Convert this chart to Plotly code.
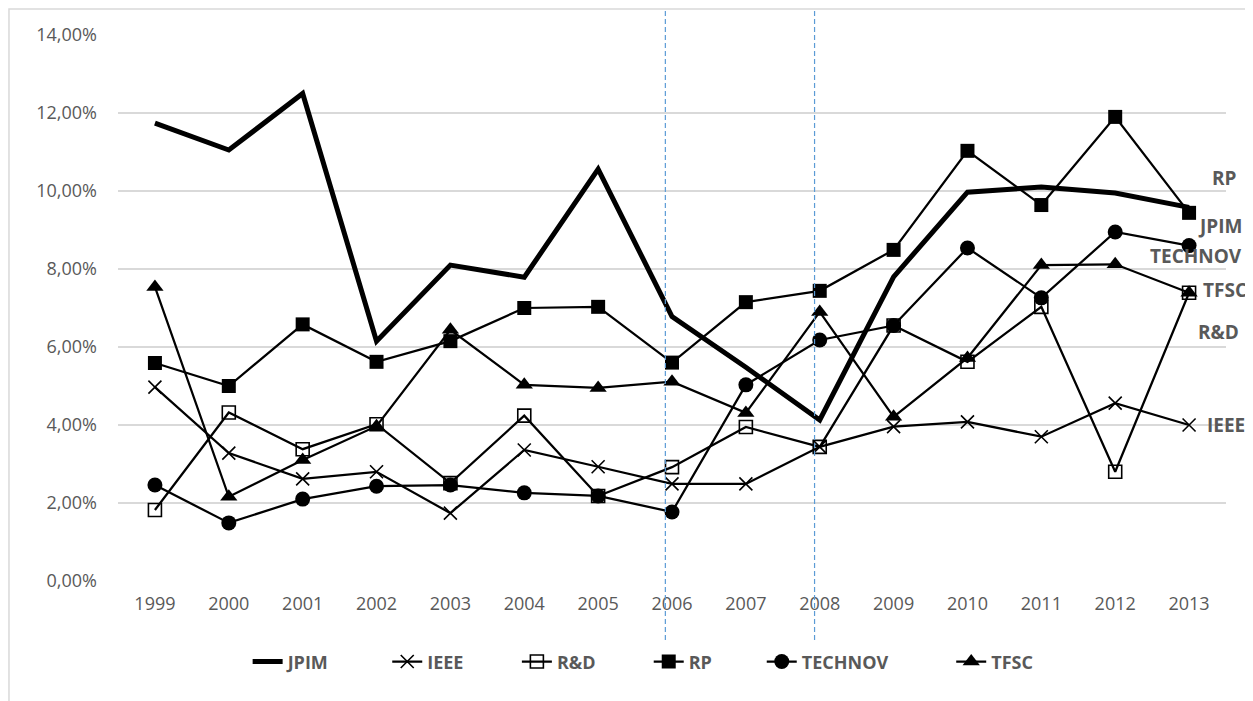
import plotly.graph_objects as go

years = [1999, 2000, 2001, 2002, 2003, 2004, 2005, 2006, 2007, 2008, 2009, 2010, 2011, 2012, 2013]
jpim = [11.74, 11.05, 12.50, 6.15, 8.10, 7.79, 10.56, 6.78, 5.48, 4.13, 7.80, 9.97, 10.10, 9.95, 9.58]
ieee = [4.97, 3.28, 2.62, 2.80, 1.74, 3.36, 2.93, 2.49, 2.49, 3.44, 3.96, 4.08, 3.70, 4.56, 4.00]
rnd = [1.82, 4.32, 3.38, 4.02, 2.51, 4.24, 2.18, 2.92, 3.95, 3.44, 6.55, 5.62, 7.03, 2.80, 7.39]
rp = [5.59, 5.00, 6.58, 5.62, 6.15, 7.00, 7.03, 5.60, 7.15, 7.44, 8.49, 11.03, 9.64, 11.90, 9.44]
technov = [2.46, 1.49, 2.10, 2.43, 2.46, 2.26, 2.18, 1.77, 5.03, 6.18, 6.55, 8.54, 7.26, 8.95, 8.60]
tfsc = [7.54, 2.16, 3.10, 3.97, 6.44, 5.03, 4.95, 5.11, 4.31, 6.90, 4.21, 5.72, 8.10, 8.12, 7.39]

y_ticks = [0, 2, 4, 6, 8, 10, 12, 14]
marked_years = [2005.91, 2007.93]

# right-hand labels: (text, x start in year units, y in percent)
end_labels = [("RP", 2013.29, 10.33), ("JPIM", 2013.09, 9.10), ("TECHNOV", 2012.45, 8.33),
              ("TFSC", 2013.16, 7.46), ("R&D", 2013.09, 6.38), ("IEEE", 2013.22, 4.00)]

GRAY = "#595959"
FONT = "Open Sans, Lato, sans-serif"

def pct(v):
    return [x / 100 for x in v]

# each series gets its own legend box, placed along the bottom row
legend_x = [0.117, 0.243, 0.360, 0.479, 0.581, 0.752]

fig = go.Figure()
fig.add_trace(go.Scatter(x=years, y=pct(jpim), name="JPIM", mode="lines",
                         line=dict(color="black", width=5), legend="legend"))
fig.add_trace(go.Scatter(x=years, y=pct(ieee), name="IEEE", mode="lines+markers",
                         line=dict(color="black", width=2.25), legend="legend2",
                         marker=dict(symbol="x-thin", size=13, line=dict(color="black", width=1.6))))
fig.add_trace(go.Scatter(x=years, y=pct(rnd), name="R&D", mode="lines+markers",
                         line=dict(color="black", width=2.25), legend="legend3",
                         marker=dict(symbol="square-open", size=13, color="black", line=dict(color="black", width=1.6))))
fig.add_trace(go.Scatter(x=years, y=pct(rp), name="RP", mode="lines+markers",
                         line=dict(color="black", width=2.25), legend="legend4",
                         marker=dict(symbol="square", size=14, color="black")))
fig.add_trace(go.Scatter(x=years, y=pct(technov), name="TECHNOV", mode="lines+markers",
                         line=dict(color="black", width=2.25), legend="legend5",
                         marker=dict(symbol="circle", size=15, color="black")))
fig.add_trace(go.Scatter(x=years, y=pct(tfsc), name="TFSC", mode="lines+markers",
                         line=dict(color="black", width=2.25), legend="legend6",
                         marker=dict(symbol="triangle-up", size=15, color="black")))

for xv in marked_years:
    fig.add_shape(type="line", xref="x", yref="paper", x0=xv, x1=xv, y0=-0.108, y1=1.05,
                  line=dict(color="#5b9bd5", width=1.2, dash="5px,3px"))

# outer chart border
fig.add_shape(type="rect", xref="paper", yref="paper", x0=-0.0984, x1=1.04, y0=-0.25, y1=1.0476,
              line=dict(color="#d9d9d9", width=1.5))

for text, xs, yv in end_labels:
    fig.add_annotation(x=xs, y=yv / 100, xref="x", yref="y", text=text, showarrow=False,
                       xanchor="left", yanchor="middle",
                       font=dict(family=FONT, size=19, color=GRAY, weight="bold"))

legend_style = dict(orientation="h", xanchor="left", y=-0.148, yanchor="middle",
                    font=dict(family=FONT, size=18, color=GRAY, weight="bold"),
                    bgcolor="rgba(0,0,0,0)")
legends = {}
for i, lx in enumerate(legend_x):
    key = "legend" if i == 0 else f"legend{i + 1}"
    legends[key] = dict(legend_style, x=lx)

fig.update_layout(
    width=1245, height=693,
    margin=dict(l=110, r=27, t=27, b=120),
    paper_bgcolor="white", plot_bgcolor="white",
    separators=",.",
    showlegend=True,
    font=dict(family=FONT, color=GRAY),
    **legends,
)
fig.update_xaxes(range=[1998.5, 2013.5], tickmode="array", tickvals=years,
                 ticktext=[str(y) for y in years], showgrid=False, zeroline=False,
                 showline=False, ticks="", ticklabelstandoff=10,
                 tickfont=dict(family=FONT, size=18, color=GRAY))
fig.update_yaxes(range=[0, 0.14], tickmode="array", tickvals=[v / 100 for v in y_ticks],
                 tickformat=".2%", showgrid=True, gridcolor="#d9d9d9", gridwidth=1.5,
                 zeroline=False, showline=False, ticks="", ticklabelstandoff=20,
                 tickfont=dict(family=FONT, size=18, color=GRAY))

fig.write_html("out.html")
